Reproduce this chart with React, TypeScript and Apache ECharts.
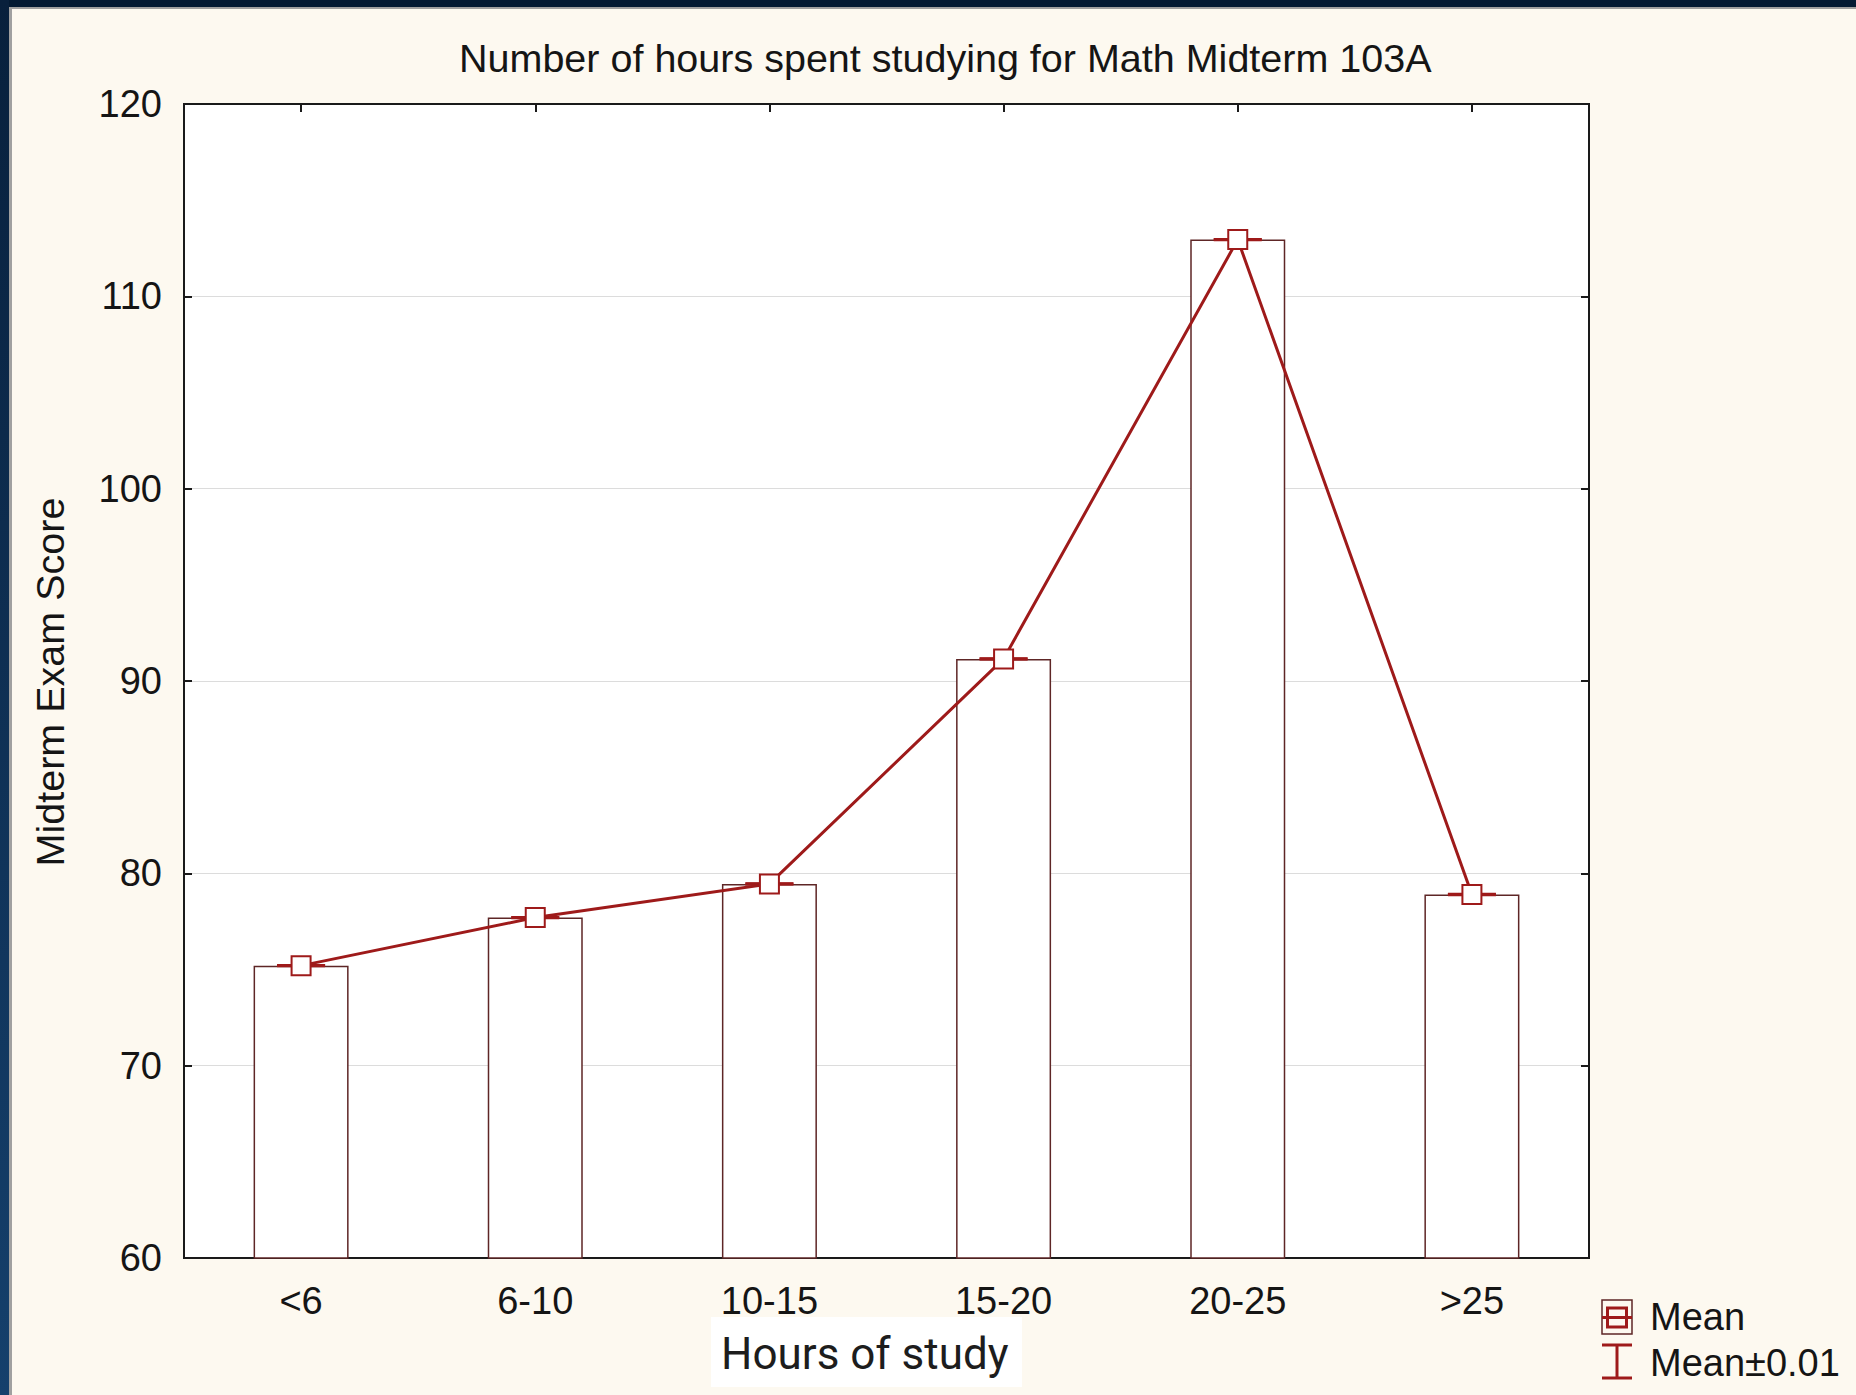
import React, { useEffect, useRef } from "react";
import * as echarts from "echarts";

const categories = ["<6", "6-10", "10-15", "15-20", "20-25", ">25"];
const meanScores = [75.2, 77.7, 79.45, 91.15, 112.95, 78.9];
const errorHalfWidth = 0.01;
const yMin = 60;
const yMax = 120;
const yInterval = 10;

const titleText = "Number of hours spent studying for Math Midterm 103A";
const yAxisTitle = "Midterm Exam Score";
const xAxisTitle = "Hours of study";
const legendMean = "Mean";
const legendErr = "Mean±0.01";

const FONT = "'Liberation Sans', Arial, sans-serif";
const RED = "#9e1a1a";
const MAROON = "#5e2626";
const INK = "#151515";

export default function App() {
  const ref = useRef<HTMLDivElement>(null);
  useEffect(() => {
    if (!ref.current) return;
    const chart = echarts.init(ref.current, null, { renderer: "svg" });
    const errData = meanScores.map((v, i) => [i, v - errorHalfWidth, v + errorHalfWidth]);
    chart.setOption({
      animation: false,
      backgroundColor: "#fdf9f0",
      textStyle: { fontFamily: FONT },
      title: {
        text: titleText,
        left: 454,
        top: 33,
        textStyle: { fontFamily: FONT, fontSize: 39.5, fontWeight: "normal", color: INK },
      },
      grid: {
        left: 184,
        top: 104,
        width: 1405,
        height: 1154,
        show: true,
        backgroundColor: "#ffffff",
        borderColor: "#1a1a1a",
        borderWidth: 2,
      },
      xAxis: [
        {
          type: "category",
          data: categories,
          position: "bottom",
          axisLine: { show: true, lineStyle: { color: "#1a1a1a", width: 2 } },
          axisTick: { show: true, inside: true, alignWithLabel: true, length: 8, lineStyle: { color: "#1a1a1a", width: 2 } },
          axisLabel: { fontSize: 38, color: INK, margin: 24, fontFamily: FONT },
          splitLine: { show: false },
        },
        {
          type: "category",
          data: categories,
          position: "top",
          axisLine: { show: true, lineStyle: { color: "#1a1a1a", width: 2 } },
          axisTick: { show: true, inside: true, alignWithLabel: true, length: 8, lineStyle: { color: "#1a1a1a", width: 2 } },
          axisLabel: { show: false },
          splitLine: { show: false },
        },
      ],
      yAxis: [
        {
          type: "value",
          min: yMin,
          max: yMax,
          interval: yInterval,
          position: "left",
          axisLine: { show: true, lineStyle: { color: "#1a1a1a", width: 2 } },
          axisTick: { show: true, inside: true, length: 8, lineStyle: { color: "#1a1a1a", width: 2 } },
          axisLabel: { fontSize: 38, color: INK, margin: 22, fontFamily: FONT },
          splitLine: { show: true, lineStyle: { color: "#dcdcdc", width: 1 } },
        },
        {
          type: "value",
          min: yMin,
          max: yMax,
          interval: yInterval,
          position: "right",
          axisLine: { show: true, lineStyle: { color: "#1a1a1a", width: 2 } },
          axisTick: { show: true, inside: true, length: 8, lineStyle: { color: "#1a1a1a", width: 2 } },
          axisLabel: { show: false },
          splitLine: { show: false },
        },
      ],
      series: [
        {
          type: "bar",
          data: meanScores,
          barWidth: 95,
          itemStyle: { color: "#ffffff", borderColor: MAROON, borderWidth: 1.5 },
          z: 2,
        },
        {
          type: "custom",
          data: errData,
          z: 3,
          renderItem: (params: any, api: any) => {
            const i = api.value(0);
            const lo = api.coord([i, api.value(1)]);
            const hi = api.coord([i, api.value(2)]);
            const half = 24;
            const style = { stroke: RED, lineWidth: 3 };
            return {
              type: "group",
              children: [
                { type: "line", shape: { x1: hi[0] - half, y1: hi[1], x2: hi[0] + half, y2: hi[1] }, style },
                { type: "line", shape: { x1: lo[0] - half, y1: lo[1], x2: lo[0] + half, y2: lo[1] }, style },
                { type: "line", shape: { x1: hi[0], y1: hi[1], x2: lo[0], y2: lo[1] }, style },
              ],
            };
          },
        },
        {
          type: "line",
          data: meanScores,
          z: 4,
          symbol: "emptyRect",
          symbolSize: 19,
          lineStyle: { color: RED, width: 3 },
          itemStyle: { color: RED, borderColor: RED, borderWidth: 3.5 },
        },
      ],
      graphic: [
        { type: "rect", shape: { x: 0, y: 0, width: 1856, height: 7 }, style: { fill: "#031a33" }, silent: true },
        {
          type: "rect",
          shape: { x: 0, y: 0, width: 9, height: 1395 },
          style: {
            fill: new echarts.graphic.LinearGradient(0, 0, 0, 1, [
              { offset: 0, color: "#08203c" },
              { offset: 1, color: "#15406c" },
            ]),
          },
          silent: true,
        },
        { type: "rect", shape: { x: 9, y: 7, width: 1847, height: 2 }, style: { fill: "#a0a0a0" }, silent: true },
        { type: "rect", shape: { x: 9, y: 7, width: 3, height: 1388 }, style: { fill: "#a0a0a0" }, silent: true },
        {
          type: "text",
          x: 50,
          y: 682,
          rotation: Math.PI / 2,
          style: {
            text: yAxisTitle,
            fontSize: 39.5,
            fontFamily: FONT,
            fill: INK,
            textAlign: "center",
            textVerticalAlign: "middle",
          },
        },
        { type: "rect", shape: { x: 711, y: 1317, width: 311, height: 70 }, style: { fill: "#ffffff" } },
        {
          type: "text",
          x: 721,
          y: 1354,
          style: {
            text: xAxisTitle,
            fontSize: 44,
            fontFamily: "Roboto, 'Noto Sans', sans-serif",
            fill: "#1d1d1d",
            textAlign: "left",
            textVerticalAlign: "middle",
          },
        },
        // legend
        { type: "rect", shape: { x: 1602, y: 1300, width: 30, height: 34 }, style: { fill: "none", stroke: MAROON, lineWidth: 1.5 } },
        { type: "rect", shape: { x: 1607.5, y: 1308, width: 19, height: 19 }, style: { fill: "none", stroke: RED, lineWidth: 3 } },
        { type: "line", shape: { x1: 1602, y1: 1317.5, x2: 1632, y2: 1317.5 }, style: { stroke: RED, lineWidth: 3 } },
        { type: "line", shape: { x1: 1602, y1: 1345, x2: 1632, y2: 1345 }, style: { stroke: RED, lineWidth: 3 } },
        { type: "line", shape: { x1: 1602, y1: 1378, x2: 1632, y2: 1378 }, style: { stroke: RED, lineWidth: 3 } },
        { type: "line", shape: { x1: 1617, y1: 1345, x2: 1617, y2: 1378 }, style: { stroke: RED, lineWidth: 3 } },
        {
          type: "text",
          x: 1650,
          y: 1317,
          style: { text: legendMean, fontSize: 38, fontFamily: FONT, fill: INK, textAlign: "left", textVerticalAlign: "middle" },
        },
        {
          type: "text",
          x: 1650,
          y: 1363,
          style: { text: legendErr, fontSize: 38, fontFamily: FONT, fill: INK, textAlign: "left", textVerticalAlign: "middle" },
        },
      ],
    });
    return () => chart.dispose();
  }, []);
  return (
    <div
      ref={ref}
      style={{ position: "fixed", left: 0, top: 0, width: 1856, height: 1395 }}
    />
  );
}
